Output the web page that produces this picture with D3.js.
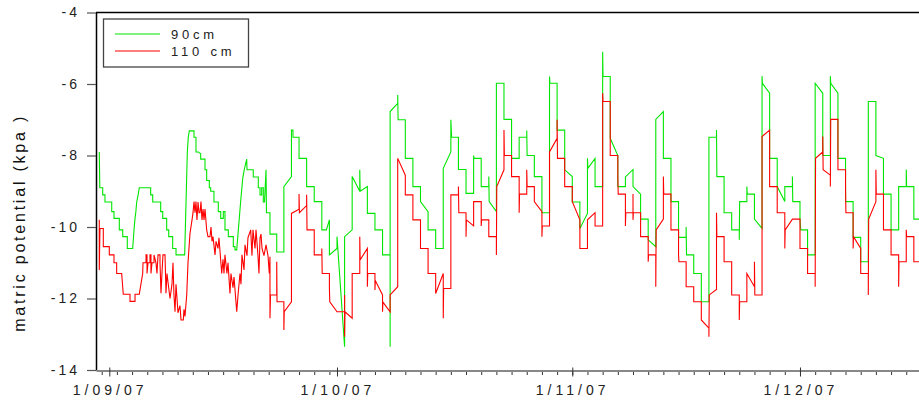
<!DOCTYPE html>
<html>
<head>
<meta charset="utf-8">
<script src="https://cdn.jsdelivr.net/npm/d3@7"></script>
<style>
body{margin:0;background:#fff;}
svg{display:block;font-family:"Liberation Sans",Arial,sans-serif;}
</style>
</head>
<body>
<svg id="chart" width="919" height="403"></svg>
<script>
// [day since 1/09/07, matric potential kPa]
var series90 = [
[-1.32,-7.9],[-1.25,-8.9],[-0.87,-8.9],[-0.87,-9.1],[-0.57,-9.1],[-0.57,-9.3],[0.32,-9.3],[0.32,-9.57],[0.62,-9.57],[0.62,-9.76],
[1.32,-9.76],[1.32,-10.08],[1.77,-10.08],[1.77,-10.27],[2.37,-10.27],[2.37,-10.6],[3.08,-10.6],[3.25,-10.1],[3.39,-9.76],[3.5,-9.57],
[3.61,-9.3],[3.8,-9.1],[3.95,-8.9],[5.45,-8.9],[5.45,-9.1],[5.72,-9.1],[5.72,-9.3],[6.77,-9.3],[6.77,-9.57],[7.04,-9.57],
[7.04,-9.76],[7.56,-9.76],[7.56,-10.08],[7.83,-10.08],[7.83,-10.27],[8.35,-10.27],[8.35,-10.6],[8.79,-10.6],[8.79,-10.78],[9.93,-10.78],
[10.28,-7.9],[10.4,-7.5],[10.54,-7.31],[11.16,-7.31],[11.16,-7.49],[11.42,-7.49],[11.42,-7.9],[11.73,-7.9],[12.04,-7.95],[12.04,-8.1],
[12.61,-8.1],[12.61,-8.4],[12.83,-8.4],[12.83,-8.7],[13.18,-8.7],[13.18,-8.9],[13.36,-8.9],[13.36,-9.0],[13.79,-9.0],[13.79,-9.3],
[14.36,-9.3],[14.36,-9.57],[14.68,-9.57],[14.68,-9.76],[15.02,-9.76],[15.02,-9.57],[15.24,-9.57],[15.24,-10.08],[15.68,-10.08],[15.68,-10.27],
[16.34,-10.27],[16.34,-10.55],[16.56,-10.55],[16.56,-10.64],[16.79,-10.64],[17.0,-10.08],[17.3,-9.3],[17.58,-8.64],[17.79,-8.39],[18.1,-8.1],
[18.15,-8.4],[18.97,-8.4],[18.97,-8.6],[19.63,-8.6],[19.63,-8.9],[19.86,-8.9],[19.86,-9.1],[20.08,-9.1],[20.08,-8.9],[20.29,-8.9],
[20.29,-9.3],[20.45,-9.3],[20.65,-8.4],[20.71,-9.6],[21.17,-9.6],[21.17,-10.2],[22.06,-10.2],[22.06,-10.7],[23,-10.7],[23,-8.87],
[24,-8.59],[24,-7.29],[24.2,-7.29],[24.2,-7.49],[25,-7.49],[25,-8.08],[26,-8.08],[26,-8.87],[27,-8.87],[27,-9.29],
[28,-9.29],[28,-10.08],[28.6,-10.08],[29,-9.8],[29,-10.78],[30,-10.6],[30,-10.27],[31,-13.35],[31,-10.27],[32,-10.08],
[32,-8.59],[33,-9.0],[33,-8.4],[33.05,-9.0],[34,-8.87],[34,-9.62],[35,-9.62],[35,-10.08],[36,-10.08],[36,-10.78],
[37,-10.78],[37,-13.35],[37,-6.77],[38,-6.54],[38,-6.31],[38.05,-7.0],[39,-7.0],[39,-8.08],[40,-8.08],[40,-8.87],
[41,-8.87],[41,-9.29],[42,-9.57],[42,-10.08],[43,-10.08],[43,-10.6],[44,-10.6],[44,-8.36],[45,-7.9],[45,-7.0],
[45.1,-7.49],[46,-7.49],[46,-8.39],[47,-8.39],[47,-9.06],[48,-9.06],[48,-8.0],[48.05,-8.08],[49,-8.08],[49,-8.87],
[50,-8.87],[50,-8.59],[50.05,-9.29],[51,-9.57],[51,-5.98],[52,-5.98],[52,-6.99],[53,-6.99],[53,-8.08],[54,-8.08],
[54,-7.49],[55,-7.49],[55,-7.3],[55.05,-8.0],[56,-8.0],[56,-8.59],[57,-8.59],[57,-9.6],[58,-9.6],[58,-5.79],
[58.05,-5.98],[59,-5.98],[59,-7.29],[60,-7.29],[60,-8.4],[61,-8.59],[61,-9.3],[62,-9.3],[62,-10.04],[63,-9.62],
[63,-8.08],[63.05,-8.36],[64,-8.08],[64,-8.87],[65,-8.87],[65,-5.1],[65.05,-5.79],[66,-5.79],[66,-7.52],[67,-8.0],
[67,-8.87],[68,-8.87],[68,-8.6],[69,-8.39],[69,-8.87],[70,-9.08],[70,-9.78],[71,-9.78],[71,-10.36],[72,-10.55],
[72,-6.99],[73,-6.77],[73,-8.08],[74,-8.08],[74,-9.29],[75,-9.29],[75,-10.29],[76,-10.29],[76,-10.0],[76.05,-10.78],
[77,-10.78],[77,-11.3],[78,-11.3],[78,-12.09],[79,-12.09],[79,-7.49],[80,-7.49],[80,-7.29],[80.05,-8.59],[81,-8.59],
[81,-9.6],[82,-9.6],[82,-10.08],[83,-10.08],[83,-10.36],[83.05,-9.29],[84,-9.29],[84,-8.87],[84.05,-9.08],[85,-9.08],
[85,-9.78],[86,-10.04],[86,-5.78],[86.05,-5.98],[87,-6.26],[87,-8.08],[88,-8.08],[88,-8.87],[89,-9.29],[89,-8.87],
[90,-8.87],[90,-8.59],[90.05,-9.29],[91,-9.29],[91,-9.78],[91.1,-10.08],[92,-10.08],[92,-10.78],[93,-10.78],[93,-5.98],
[94,-6.26],[94,-8.0],[95,-8.0],[95,-5.78],[95.05,-5.98],[96,-6.26],[96,-8.08],[97,-8.08],[97,-9.29],[98,-9.29],
[98,-10.29],[99,-10.29],[99,-10.97],[100,-10.97],[100,-6.49],[101,-6.49],[101,-8.0],[102,-8.08],[102,-9.08],[103,-9.08],
[103,-10.08],[104,-10.08],[104,-8.87],[105,-8.87],[105,-8.39],[105.05,-8.87],[106,-8.87],[106,-9.78],[107,-9.78]
];

var series110 = [
[-1.32,-9.8],[-1.32,-11.2],[-1.23,-10.04],[-0.79,-10.04],[-0.79,-10.55],[0,-10.55],[0,-10.78],[0.62,-10.78],[0.62,-11.0],[0.97,-11.0],
[0.97,-11.3],[1.63,-11.3],[1.84,-11.88],[2.73,-11.88],[2.73,-12.08],[3.39,-12.08],[3.39,-11.88],[3.95,-11.88],[4.4,-11.3],[4.44,-11.0],
[4.84,-11.0],[4.84,-10.78],[4.97,-10.78],[4.97,-11.3],[5.1,-11.0],[5.36,-11.0],[5.36,-10.78],[5.49,-10.78],[5.49,-11.3],[5.63,-11.0],
[5.89,-11.0],[5.89,-10.78],[6.15,-11.0],[6.28,-11.3],[6.42,-10.78],[6.68,-10.78],[6.68,-11.0],[6.81,-11.85],[6.94,-11.3],[7.07,-10.78],
[7.34,-10.78],[7.47,-11.85],[7.6,-11.3],[7.77,-11.6],[8.0,-12.0],[8.26,-11.6],[8.39,-11.0],[8.52,-11.9],[8.66,-12.37],[8.79,-11.6],
[9.05,-12.4],[9.31,-12.2],[9.45,-12.6],[9.75,-12.6],[9.84,-12.3],[9.97,-12.5],[10.2,-11.9],[10.37,-11.0],[10.63,-10.18],[10.9,-9.8],
[11.03,-9.6],[11.16,-9.29],[11.29,-9.6],[11.42,-9.29],[11.55,-9.8],[11.69,-9.3],[11.82,-9.6],[11.95,-9.6],[12.08,-9.29],[12.21,-9.8],
[12.35,-9.5],[12.48,-9.8],[12.61,-9.5],[12.83,-10.08],[13.0,-10.27],[13.27,-10.27],[13.4,-10.0],[13.53,-10.4],[13.66,-10.27],[13.93,-10.78],
[14.06,-10.4],[14.32,-10.6],[14.45,-10.3],[14.81,-11.3],[14.98,-10.9],[15.11,-11.3],[15.24,-10.78],[15.5,-11.3],[15.64,-11.0],[15.9,-11.86],
[16.03,-11.3],[16.3,-11.7],[16.43,-11.4],[16.79,-12.37],[16.96,-11.9],[17.22,-11.3],[17.35,-11.6],[17.48,-10.78],[17.75,-11.2],[17.88,-10.5],
[18.14,-10.8],[18.27,-10.3],[18.63,-10.08],[18.8,-10.8],[18.93,-10.08],[19.2,-10.6],[19.33,-10.08],[19.59,-10.8],[19.72,-11.3],[19.86,-10.3],
[19.99,-10.2],[20.12,-10.6],[20.38,-10.8],[20.65,-10.5],[20.91,-10.8],[21.08,-11.3],[21.17,-10.83],[21.17,-12.55],[21.24,-11.9],[22.06,-11.9],
[22.06,-10.97],[22.1,-12.09],[23,-12.09],[23,-12.88],[23.05,-12.37],[24,-12.09],[24,-9.62],[25,-9.5],[25,-9.08],[25.05,-9.6],
[26,-9.4],[26,-9.1],[26.05,-10.08],[27,-10.08],[27,-10.78],[28,-10.78],[28,-10.6],[28.05,-11.3],[29,-11.3],[29,-11.72],
[29.05,-12.09],[30,-12.37],[31,-12.37],[31,-11.9],[31,-13.07],[31.05,-12.37],[32,-12.55],[32,-11.3],[33,-11.3],[33,-10.27],
[33.05,-10.92],[34,-10.6],[34,-11.67],[34.05,-11.3],[35,-11.3],[35,-11.76],[35.05,-11.5],[36,-11.9],[36,-12.37],[36.05,-12.1],
[37,-12.37],[37,-11.9],[38,-11.67],[38,-8.08],[39,-8.55],[39,-9.1],[40,-9.1],[40,-9.8],[41,-9.8],[41,-10.6],
[42,-10.6],[42,-11.3],[43,-11.3],[43,-11.86],[44,-11.3],[44,-12.55],[44.05,-11.72],[45,-11.72],[45,-9.1],[46,-9.1],
[46,-8.87],[46.05,-9.6],[47,-9.6],[47,-10.27],[47.05,-9.8],[48,-9.97],[48,-9.29],[49,-9.29],[49,-9.97],[49.05,-9.8],
[50,-9.8],[50,-10.27],[51,-10.27],[51,-10.78],[51.05,-8.87],[52,-8.4],[52,-7.29],[52.05,-8.0],[53,-8.0],[53,-8.59],
[54,-8.59],[54,-9.6],[54.05,-9.08],[55,-9.08],[55,-8.4],[55.05,-8.87],[56,-8.87],[56,-9.29],[57,-9.57],[57,-10.27],
[57.05,-9.97],[58,-9.97],[58,-7.9],[59,-7.52],[59,-7.0],[59.05,-8.08],[60,-8.08],[60,-8.87],[61,-8.87],[61,-9.29],
[62,-9.8],[62,-10.6],[63,-10.6],[63,-9.8],[64,-9.6],[64,-9.97],[65,-9.97],[65,-6.26],[65.05,-6.49],[66,-6.49],
[66,-8.0],[67,-8.0],[67,-8.59],[67.05,-9.08],[68,-9.08],[68,-9.97],[68.05,-9.6],[69,-9.6],[69,-9.08],[69,-9.8],
[69.05,-9.6],[70,-9.6],[70,-10.27],[71,-10.27],[71,-10.97],[71.05,-10.78],[72,-10.78],[72,-11.67],[72.05,-10.08],[73,-9.78],
[73,-8.59],[73.05,-9.08],[74,-9.08],[74,-10.08],[75,-10.08],[75,-10.78],[75.05,-10.97],[76,-10.97],[76,-11.67],[77,-11.67],
[77,-12.09],[78,-12.09],[78,-12.6],[79,-12.83],[79,-13.07],[79.05,-11.9],[80,-11.75],[80,-9.6],[80.05,-10.27],[81,-10.27],
[81,-10.97],[82,-10.97],[82,-11.9],[83,-11.9],[83,-12.6],[83.05,-12.09],[84,-12.09],[84,-11.3],[85,-11.67],[85,-10.97],
[85.05,-11.9],[86,-11.9],[86,-7.47],[87,-7.29],[87,-8.87],[88,-8.87],[88,-9.6],[89,-9.6],[89,-10.6],[89.05,-10.08],
[90,-9.78],[91,-9.78],[91,-10.6],[92,-10.6],[92,-11.3],[93,-11.3],[93,-11.67],[93.05,-8.08],[94,-7.9],[94,-7.47],
[94.05,-8.4],[95,-8.55],[95,-8.87],[95.05,-6.99],[96,-6.99],[96,-8.4],[97,-8.4],[97,-8.87],[97.05,-9.6],[98,-9.6],
[98,-10.6],[98.05,-10.27],[99,-10.6],[99,-11.3],[100,-11.3],[100,-11.9],[100.05,-9.78],[101,-9.29],[101,-8.4],[101.05,-9.08],
[102,-9.08],[102,-10.08],[103,-10.08],[103,-10.78],[104,-10.78],[104,-11.67],[104.05,-10.97],[105,-10.97],[105,-10.08],[105.05,-10.27],
[106,-10.27],[106,-10.97],[107,-10.97]
];

var seriesNames = ["90cm", "110 cm"];
var seriesColors = ["#00e600", "#ff0000"];
var yTickValues = [-14, -12, -10, -8, -6, -4];
var monthTicks = ["2007-09-01", "2007-10-01", "2007-11-01", "2007-12-01"];
var yTitle = "matric potential (kpa )";

var parseDay = d3.timeParse("%Y-%m-%d");
var origin = parseDay("2007-09-01");
var dayToDate = function(d)
{
    return new Date(origin.getTime() + d * 864e5);
}

var svg = d3.select("#chart");
var plot = {left:96, top:12.5, right:919, bottom:370};

var xScale = d3.scaleTime()
    .domain([dayToDate(-1.752), dayToDate(106.68)])
    .range([plot.left, plot.right]);
var yScale = d3.scaleLinear()
    .domain([-14, -4])
    .range([plot.bottom, plot.top]);

svg.append("clipPath").attr("id", "clip")
    .append("rect")
    .attr("x", plot.left).attr("y", plot.top)
    .attr("width", plot.right - plot.left)
    .attr("height", plot.bottom - plot.top);

// lines
var lineGenerator = d3.line()
    .x(function(p) { return xScale(dayToDate(p[0])); })
    .y(function(p) { return yScale(p[1]); });

var lines = svg.append("g").attr("clip-path", "url(#clip)");
[series90, series110].forEach(function(s, i)
{
    lines.append("path")
        .datum(s)
        .attr("fill", "none")
        .attr("stroke", seriesColors[i])
        .attr("stroke-width", 1.1)
        .attr("d", lineGenerator);
});

// top frame
svg.append("line")
    .attr("x1", plot.left).attr("x2", plot.right)
    .attr("y1", plot.top).attr("y2", plot.top)
    .attr("stroke", "#000").attr("stroke-width", 1.3);

// y axis
var yAxis = d3.axisLeft(yScale)
    .tickValues(yTickValues)
    .tickSize(9)
    .tickSizeOuter(0)
    .tickFormat(function(d) { return String(d); });
var yg = svg.append("g")
    .attr("transform", "translate(" + plot.left + ",0)")
    .call(yAxis);
yg.select(".domain").attr("stroke", "#000").attr("stroke-width", 1.5);
yg.selectAll(".tick line").attr("stroke", "#555").attr("stroke-width", 1.2);
yg.selectAll(".tick text")
    .attr("x", -16)
    .attr("fill", "#222")
    .style("font-size", "14px")
    .style("letter-spacing", "3px")
    .style("font-family", "Liberation Sans, Arial, sans-serif");

// x axis: minor ticks every 2 days
var minorDates = d3.timeDay.range(parseDay("2007-08-31"), parseDay("2007-12-18"), 2);
var xMinor = d3.axisBottom(xScale)
    .tickValues(minorDates)
    .tickSize(4)
    .tickSizeOuter(0)
    .tickFormat("");
var xmg = svg.append("g")
    .attr("transform", "translate(0," + (plot.bottom + 1) + ")")
    .call(xMinor);
xmg.select(".domain").remove();
xmg.selectAll(".tick line").attr("stroke", "#333");

// x axis: months
var xAxis = d3.axisBottom(xScale)
    .tickValues(monthTicks.map(parseDay))
    .tickSize(6)
    .tickSizeOuter(0)
    .tickFormat(d3.timeFormat("%-d/%m/%y"));
var xg = svg.append("g")
    .attr("transform", "translate(0," + (plot.bottom + 0.5) + ")")
    .call(xAxis);
xg.select(".domain").attr("stroke", "#888").attr("stroke-width", 2);
xg.selectAll(".tick line").attr("y1", -3).attr("stroke", "#333");
xg.selectAll(".tick text")
    .attr("text-anchor", "start")
    .attr("x", -37)
    .attr("y", 24)
    .attr("dy", null)
    .attr("fill", "#222")
    .style("font-size", "14px")
    .style("letter-spacing", "4px")
    .style("font-family", "Liberation Sans, Arial, sans-serif");

// y title
svg.append("text")
    .text(yTitle)
    .attr("transform", "translate(25," + ((plot.top + plot.bottom) / 2 + 33) + ") rotate(-90)")
    .attr("text-anchor", "middle")
    .attr("fill", "#111")
    .attr("textLength", 215)
    .attr("lengthAdjust", "spacing")
    .style("font-size", "16px");

// legend
var legend = svg.append("g");
legend.append("rect")
    .attr("x", 103.5).attr("y", 19)
    .attr("width", 145).attr("height", 48)
    .attr("fill", "#fff")
    .attr("stroke", "#444")
    .attr("stroke-width", 1.3);
var rows = legend.selectAll(".row")
    .data(seriesNames)
    .enter()
    .append("g")
    .attr("transform", function(d, i) { return "translate(0," + (34 + i * 17) + ")"; });
rows.append("line")
    .attr("x1", 115).attr("x2", 160)
    .attr("stroke", function(d, i) { return seriesColors[i]; })
    .attr("stroke-width", 1.1);
rows.append("text")
    .text(function(d) { return d; })
    .attr("x", 171)
    .attr("y", 4.5)
    .attr("fill", "#222")
    .style("font-size", "13px")
    .style("letter-spacing", "3.8px");
</script>
</body>
</html>
